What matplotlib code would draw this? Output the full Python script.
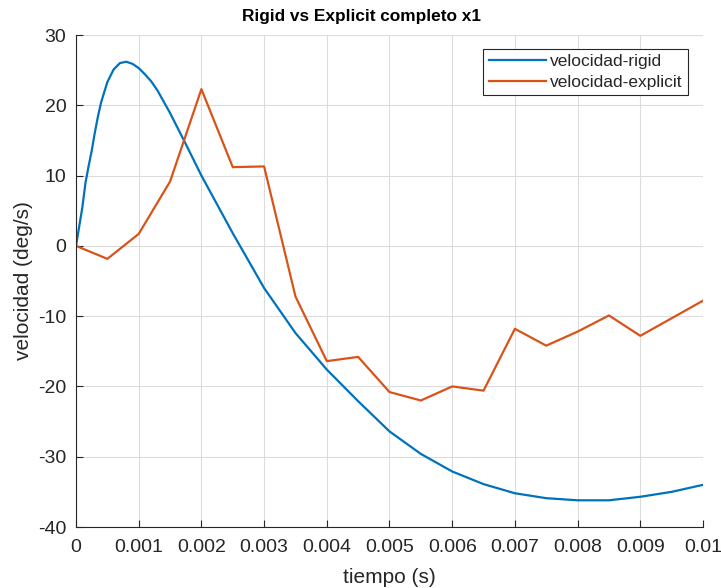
import matplotlib
matplotlib.use("Agg")
import matplotlib.pyplot as plt

plt.rcParams['font.family'] = ['Liberation Sans', 'DejaVu Sans']
plt.rcParams['axes.unicode_minus'] = False

# rigid solution (smooth curve)
t_rigid = [0, 0.00005, 0.0001, 0.00015, 0.0002, 0.00025, 0.0003, 0.00035,
           0.0004, 0.0005, 0.0006, 0.0007, 0.0008, 0.0009, 0.001, 0.0011,
           0.0012, 0.0013, 0.0014, 0.0015, 0.00175, 0.002, 0.0025, 0.003,
           0.0035, 0.004, 0.0045, 0.005, 0.0055, 0.006, 0.0065, 0.007,
           0.0075, 0.008, 0.0085, 0.009, 0.0095, 0.01]
vel_rigid = [0, 2.7, 5.4, 8.9, 11.3, 13.5, 16.1, 18.4,
             20.4, 23.3, 25.1, 26.0, 26.2, 25.9, 25.3, 24.4,
             23.4, 22.1, 20.5, 18.9, 14.5, 10.0, 1.8, -6.0,
             -12.4, -17.6, -22.1, -26.4, -29.6, -32.1, -33.9, -35.2,
             -35.9, -36.2, -36.2, -35.7, -35.0, -34.0]

# explicit solution (one sample every 0.5 ms)
t_explicit = [0, 0.0005, 0.001, 0.0015, 0.002, 0.0025, 0.003, 0.0035,
              0.004, 0.0045, 0.005, 0.0055, 0.006, 0.0065, 0.007, 0.0075,
              0.008, 0.0085, 0.009, 0.0095, 0.01]
vel_explicit = [0, -1.85, 1.7, 9.15, 22.3, 11.2, 11.3, -7.2,
                -16.4, -15.8, -20.8, -22.0, -20.0, -20.6, -11.8, -14.2,
                -12.2, -9.9, -12.8, -10.3, -7.8]

x_ticks = [0, 0.001, 0.002, 0.003, 0.004, 0.005, 0.006, 0.007, 0.008, 0.009, 0.01]
x_ticklabels = ['0', '0.001', '0.002', '0.003', '0.004', '0.005', '0.006',
                '0.007', '0.008', '0.009', '0.01']
y_ticks = [-40, -30, -20, -10, 0, 10, 20, 30]

dark = '#262626'

fig = plt.figure(figsize=(7.21, 5.88), dpi=100)
ax = fig.add_axes([76 / 721, 61 / 588, 627 / 721, 492 / 588])

ax.plot(t_rigid, vel_rigid, color='#0072BD', lw=1.6, label='velocidad-rigid')
ax.plot(t_explicit, vel_explicit, color='#D95319', lw=1.6, label='velocidad-explicit')

ax.set_xlim(0, 0.01)
ax.set_ylim(-40, 30)
ax.set_xticks(x_ticks)
ax.set_xticklabels(x_ticklabels)
ax.set_yticks(y_ticks)
ax.grid(True, color='#dcdcdc', lw=0.8)
ax.set_axisbelow(True)

for side in ['top', 'right']:
    ax.spines[side].set_visible(False)
for side in ['left', 'bottom']:
    ax.spines[side].set_color(dark)
    ax.spines[side].set_linewidth(0.8)
ax.tick_params(direction='in', length=5, width=0.8, colors=dark, labelsize=14)
ax.tick_params(axis='x', pad=8.5)
ax.tick_params(axis='y', pad=7)

ax.set_xlabel('tiempo (s)', fontsize=15, color=dark, va='center')
ax.xaxis.set_label_coords(0.5, -0.102)
ax.set_ylabel('velocidad (deg/s)', fontsize=15, color=dark, va='center')
ax.yaxis.set_label_coords(-0.083, 0.5)
fig.text(362 / 721, 1 - 17 / 588, 'Rigid vs Explicit completo x1',
         ha='center', va='center', fontsize=12.4, fontweight='bold', color='black')

leg = ax.legend(loc='upper right', bbox_to_anchor=(0.976, 0.9715),
                borderaxespad=0, fontsize=12.5, handlelength=3.3,
                handletextpad=0.25, labelspacing=0.3, fancybox=False,
                framealpha=1, edgecolor=dark, borderpad=0.3)
leg.get_frame().set_linewidth(0.8)
for txt in leg.get_texts():
    txt.set_color(dark)

fig.savefig('out.png', dpi=100)
